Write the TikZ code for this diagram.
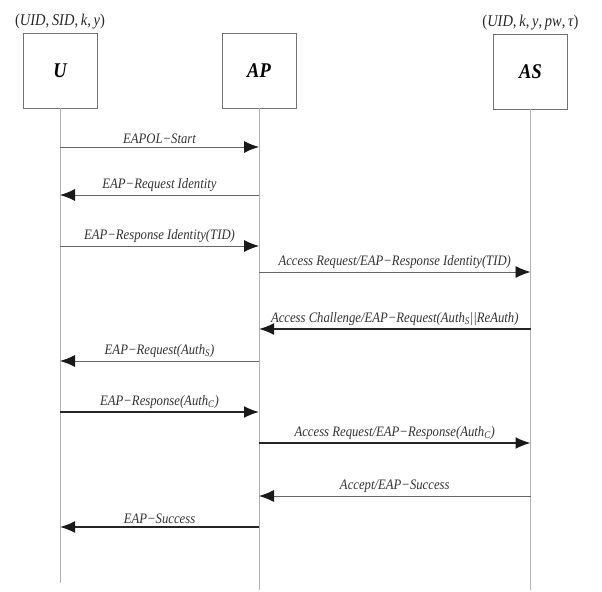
\documentclass[tikz,border=0pt]{standalone}
\usepackage{fontspec}
\setmainfont{Liberation Serif}[FakeStretch=0.88]
\usetikzlibrary{arrows.meta,positioning}
\tikzset{
  party/.style={draw=black!55, line width=0.8pt, minimum width=74bp, minimum height=75bp,
    inner sep=0pt, font=\fontsize{21}{22}\selectfont\bfseries\itshape},
  lifeline/.style={draw=black!30, line width=1pt},
  msg/.style={draw=black!60, line width=0.9pt, -{Latex[length=15bp,width=12bp,color=black!90]}},
  bigmsg/.style={msg, draw=black!85, line width=1.6pt},
  lbl/.style={above=1bp, inner sep=2bp, text=black!80,
    font=\fontsize{14.5}{15}\selectfont\itshape},
  keys/.style={inner sep=1bp, text=black!85, font=\fontsize{16.5}{17}\selectfont}
}
\begin{document}
\begin{tikzpicture}[x=1bp, y=-1bp]
    \useasboundingbox (0,0) rectangle (602,592);
    % parties
    \node[party] (U) at (60,70.5) {U};
    \node[party] (AP) at (259,70.5) {AP};
    \node[party] (AS) at (530.5,71.5) {AS};
    \node[keys, above=2bp of U] (Ukeys) {(\textit{UID},\,\textit{SID},\,\textit{k},\,\textit{y})};
    \node[keys, above=2bp of AS] (ASkeys) {(\textit{UID},\,\textit{k},\,\textit{y},\,\textit{pw},\,\textit{τ})};
    % lifelines
    \coordinate (Uend) at (60,583);
    \coordinate (APend) at (259,590);
    \coordinate (ASend) at (530.5,590);
    \draw[lifeline] (U) -- (Uend);
    \draw[lifeline] (AP) -- (APend);
    \draw[lifeline] (AS) -- (ASend);
    % message rows
    \coordinate (r1) at (0,147);
    \coordinate (r2) at (0,195);
    \coordinate (r3) at (0,246);
    \coordinate (r4) at (0,272);
    \coordinate (r5) at (0,329);
    \coordinate (r6) at (0,361);
    \coordinate (r7) at (0,412);
    \coordinate (r8) at (0,443);
    \coordinate (r9) at (0,496);
    \coordinate (r10) at (0,527);
    % messages
    \draw[msg] (U |- r1) -- node[lbl] {EAPOL−Start} (AP |- r1);
    \draw[msg] (AP |- r2) -- node[lbl] {EAP−Request Identity} (U |- r2);
    \draw[msg] (U |- r3) -- node[lbl] {EAP−Response Identity(TID)} (AP |- r3);
    \draw[msg] (AP |- r4) -- node[lbl] {Access Request/EAP−Response Identity(TID)} (AS |- r4);
    \draw[bigmsg] (AS |- r5) -- node[lbl] {Access Challenge/EAP−Request(Auth\textsubscript{S}||ReAuth)} (AP |- r5);
    \draw[msg] (AP |- r6) -- node[lbl] {EAP−Request(Auth\textsubscript{S})} (U |- r6);
    \draw[bigmsg] (U |- r7) -- node[lbl] {EAP−Response(Auth\textsubscript{C})} (AP |- r7);
    \draw[bigmsg] (AP |- r8) -- node[lbl] {Access Request/EAP−Response(Auth\textsubscript{C})} (AS |- r8);
    \draw[msg] (AS |- r9) -- node[lbl] {Accept/EAP−Success} (AP |- r9);
    \draw[bigmsg] (AP |- r10) -- node[lbl] {EAP−Success} (U |- r10);
\end{tikzpicture}
\end{document}
